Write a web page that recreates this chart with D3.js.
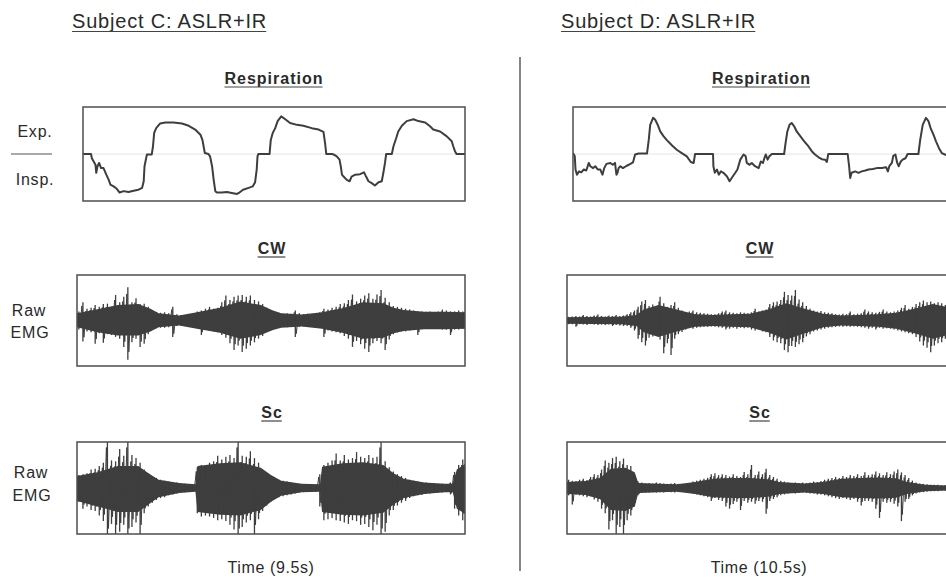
<!DOCTYPE html>
<html><head><meta charset="utf-8">
<script src="https://cdn.jsdelivr.net/npm/d3@7"></script>
<style>
body{margin:0;background:#fff;}
svg{display:block;font-family:"Liberation Sans",Arial,Helvetica,sans-serif;}
</style></head><body>
<svg id="chart" width="946" height="577"></svg>
<script>
// ---- labels ----
const subjects = ["Subject C: ASLR+IR", "Subject D: ASLR+IR"];
const durations = [9.5, 10.5];                 // seconds shown in each column
const timeLabels = ["Time (9.5s)", "Time (10.5s)"];
const panelTitles = ["Respiration", "CW", "Sc"];
const respLabels = ["Exp.", "Insp."];
const emgLabels = ["Raw", "EMG"];

// ---- respiration traces: [time s, normalised volume (+ expiration, - inspiration)] ----
const respC = [[0,0],[0.20,0],[0.22,-0.09],[0.31,-0.23],[0.33,-0.40],[0.36,-0.26],[0.40,-0.19],[0.45,-0.30],[0.51,-0.30],[0.58,-0.44],
[0.64,-0.55],[0.68,-0.65],[0.76,-0.69],[0.84,-0.74],[0.91,-0.82],[1.01,-0.79],[1.13,-0.81],[1.26,-0.78],[1.38,-0.76],[1.47,-0.72],
[1.51,-0.58],[1.53,-0.26],[1.57,-0.09],[1.59,-0.01],[1.71,-0.01],[1.74,0.16],[1.77,0.45],[1.82,0.55],[1.92,0.65],[2.05,0.67],
[2.25,0.67],[2.46,0.65],[2.63,0.60],[2.79,0.52],[2.92,0.41],[2.97,0.30],[3.00,0.16],[3.03,0.02],[3.12,0],[3.16,-0.05],
[3.21,-0.26],[3.25,-0.55],[3.29,-0.79],[3.33,-0.82],[3.45,-0.82],[3.58,-0.81],[3.70,-0.83],[3.83,-0.85],[3.89,-0.82],[3.98,-0.76],
[4.12,-0.72],[4.22,-0.69],[4.28,-0.60],[4.32,-0.33],[4.34,-0.05],[4.36,0],[4.64,0],[4.67,0.30],[4.72,0.45],[4.78,0.55],
[4.84,0.70],[4.93,0.80],[5.03,0.74],[5.15,0.66],[5.32,0.62],[5.48,0.60],[5.69,0.55],[5.86,0.52],[5.98,0.47],[6.02,0.23],
[6.05,0],[6.19,0],[6.23,-0.01],[6.31,-0.05],[6.38,-0.12],[6.41,-0.26],[6.44,-0.44],[6.48,-0.48],[6.56,-0.55],[6.63,-0.58],
[6.68,-0.48],[6.77,-0.44],[6.89,-0.43],[6.99,-0.39],[7.04,-0.48],[7.10,-0.58],[7.18,-0.62],[7.26,-0.67],[7.35,-0.60],[7.43,-0.58],
[7.47,-0.40],[7.51,-0.19],[7.54,0],[7.68,0],[7.72,0.16],[7.79,0.34],[7.84,0.48],[7.93,0.60],[8.05,0.70],[8.22,0.74],
[8.34,0.70],[8.51,0.67],[8.63,0.59],[8.71,0.52],[8.88,0.48],[9.04,0.38],[9.17,0.27],[9.21,0.16],[9.25,0.06],[9.29,0],[9.50,0]];

const respD = [[0,0.02],[0.05,-0.05],[0.07,-0.33],[0.11,-0.44],[0.17,-0.37],[0.23,-0.39],[0.30,-0.33],[0.37,-0.35],[0.44,-0.19],[0.48,-0.26],
[0.56,-0.30],[0.62,-0.26],[0.69,-0.33],[0.76,-0.33],[0.82,-0.44],[0.87,-0.30],[0.93,-0.21],[1.04,-0.19],[1.11,-0.23],[1.17,-0.19],
[1.21,-0.44],[1.24,-0.40],[1.27,-0.30],[1.32,-0.26],[1.39,-0.30],[1.50,-0.25],[1.60,-0.21],[1.67,-0.18],[1.73,-0.01],[1.83,0.01],
[2.06,0.01],[2.11,0.30],[2.15,0.62],[2.23,0.77],[2.29,0.73],[2.36,0.62],[2.43,0.48],[2.52,0.38],[2.62,0.29],[2.76,0.18],
[2.89,0.09],[3.03,0.02],[3.17,-0.05],[3.28,-0.17],[3.36,-0.19],[3.40,0],[3.90,0],[3.91,-0.26],[3.95,-0.40],[4.01,-0.33],
[4.06,-0.44],[4.12,-0.37],[4.19,-0.40],[4.29,-0.48],[4.36,-0.58],[4.42,-0.51],[4.52,-0.40],[4.58,-0.33],[4.66,-0.12],[4.75,-0.01],
[4.81,-0.05],[4.84,-0.19],[4.92,-0.23],[4.98,-0.19],[5.07,-0.26],[5.17,-0.30],[5.23,-0.16],[5.29,-0.19],[5.33,-0.09],[5.37,-0.01],
[5.42,-0.12],[5.47,-0.05],[5.54,0],[5.88,0],[5.92,0.23],[5.97,0.48],[6.03,0.62],[6.09,0.66],[6.16,0.59],[6.23,0.48],
[6.33,0.38],[6.44,0.27],[6.56,0.16],[6.65,0.06],[6.74,-0.01],[6.84,-0.07],[6.93,-0.11],[7.02,-0.12],[7.07,-0.17],[7.11,0],
[7.65,0],[7.69,-0.26],[7.72,-0.51],[7.76,-0.40],[7.86,-0.37],[7.95,-0.40],[8.04,-0.37],[8.14,-0.35],[8.23,-0.33],[8.35,-0.32],
[8.46,-0.30],[8.60,-0.30],[8.72,-0.28],[8.77,-0.37],[8.81,-0.26],[8.88,-0.19],[8.92,-0.04],[8.98,-0.01],[9.03,-0.19],[9.07,-0.26],
[9.13,-0.16],[9.18,-0.12],[9.26,-0.09],[9.32,0],[9.62,0],[9.67,0.30],[9.74,0.62],[9.83,0.77],[9.90,0.70],[9.96,0.55],
[10.04,0.41],[10.11,0.27],[10.19,0.13],[10.27,0.02],[10.36,-0.01],[10.50,-0.05]];

// ---- raw EMG spike peaks: per 0.1 s bin, [positive peak, negative peak] in % of full scale ----
const binWidth = 0.1;
const cwC = [[20,-20],[40,-46],[26,-24],[28,-26],[34,-51],[30,-28],[36,-49],[37,-30],[30,-32],[56,-36],
[40,-40],[52,-58],[73,-86],[40,-48],[49,-40],[36,-58],[37,-51],[30,-30],[20,-18],[19,-17],
[17,-16],[18,-16],[16,-15],[30,-36],[14,-12],[12,-11],[11,-10],[11,-10],[12,-11],[20,-16],
[22,-32],[26,-20],[30,-22],[26,-24],[28,-26],[40,-32],[55,-38],[45,-50],[52,-65],[55,-55],
[56,-69],[52,-62],[55,-55],[45,-48],[42,-40],[36,-34],[28,-22],[20,-18],[18,-16],[17,-15],
[15,-14],[16,-15],[15,-14],[22,-36],[16,-14],[14,-13],[15,-14],[14,-14],[16,-15],[18,-16],
[26,-36],[24,-22],[28,-24],[30,-26],[36,-28],[38,-34],[45,-40],[57,-58],[42,-45],[48,-52],
[55,-62],[60,-69],[48,-50],[57,-45],[67,-50],[50,-65],[40,-42],[32,-30],[30,-26],[28,-24],
[26,-24],[24,-22],[22,-20],[20,-32],[20,-18],[19,-18],[20,-18],[18,-18],[20,-18],[24,-20],
[22,-20],[20,-32],[20,-20],[22,-20],[20,-18]];

const cwD = [[8,-8],[9,-8],[10,-14],[9,-8],[12,-9],[10,-10],[9,-8],[11,-9],[13,-10],[10,-9],
[9,-10],[11,-9],[10,-12],[12,-10],[10,-11],[11,-12],[14,-12],[18,-16],[22,-22],[30,-40],
[42,-48],[45,-55],[32,-38],[35,-35],[30,-32],[52,-42],[38,-72],[30,-50],[34,-76],[40,-40],
[28,-30],[22,-25],[18,-20],[20,-16],[22,-18],[18,-16],[17,-15],[16,-14],[15,-14],[14,-13],
[14,-14],[16,-15],[20,-16],[22,-20],[18,-18],[17,-16],[16,-18],[18,-16],[17,-17],[16,-16],
[18,-20],[26,-22],[20,-20],[22,-24],[24,-26],[36,-36],[40,-44],[42,-48],[45,-50],[63,-65],
[56,-70],[55,-56],[67,-58],[46,-52],[40,-48],[32,-35],[26,-30],[22,-24],[20,-22],[21,-20],
[18,-18],[17,-16],[16,-15],[14,-14],[13,-13],[15,-14],[14,-13],[20,-14],[14,-13],[15,-14],
[16,-15],[24,-16],[20,-18],[18,-16],[17,-20],[19,-16],[24,-18],[20,-17],[18,-18],[20,-20],
[22,-22],[28,-24],[34,-26],[26,-28],[30,-30],[36,-36],[40,-46],[44,-55],[40,-60],[42,-70],
[38,-55],[40,-50],[38,-48],[34,-40],[30,-34]];

const scC = [[28,-30],[30,-45],[32,-40],[40,-48],[42,-50],[48,-60],[55,-72],[110,-110],[60,-78],[58,-100],
[85,-95],[70,-80],[110,-110],[72,-85],[65,-75],[55,-100],[40,-55],[32,-40],[26,-32],[22,-26],
[18,-22],[16,-20],[14,-16],[13,-14],[12,-12],[10,-10],[9,-9],[8,-8],[7,-7],[45,-55],
[50,-62],[48,-60],[55,-62],[58,-65],[70,-70],[62,-68],[68,-72],[72,-80],[65,-90],[110,-110],
[70,-85],[68,-75],[80,-70],[65,-100],[55,-68],[40,-50],[30,-38],[24,-30],[20,-24],[18,-20],
[16,-18],[14,-16],[12,-14],[10,-12],[9,-10],[8,-9],[8,-8],[8,-8],[7,-8],[30,-40],
[50,-70],[55,-68],[60,-65],[75,-70],[60,-72],[72,-75],[62,-78],[65,-70],[78,-72],[68,-80],
[65,-78],[72,-85],[66,-92],[68,-80],[110,-110],[58,-95],[45,-60],[36,-48],[30,-38],[26,-32],
[22,-28],[18,-22],[16,-18],[14,-16],[13,-15],[12,-13],[11,-12],[10,-11],[9,-10],[9,-10],
[8,-9],[12,-14],[35,-45],[50,-60],[62,-70]];

const scD = [[18,-16],[16,-36],[15,-14],[18,-16],[20,-18],[17,-20],[24,-18],[30,-25],[28,-30],[40,-45],
[60,-55],[55,-90],[65,-70],[68,-100],[58,-85],[64,-100],[50,-70],[48,-60],[30,-40],[14,-16],
[12,-11],[10,-10],[11,-10],[10,-9],[12,-10],[11,-9],[10,-10],[9,-8],[10,-9],[11,-10],
[9,-9],[8,-8],[7,-7],[10,-10],[14,-12],[16,-14],[18,-16],[20,-18],[22,-20],[30,-28],
[32,-22],[28,-26],[30,-28],[28,-40],[25,-45],[30,-35],[26,-30],[24,-48],[35,-28],[30,-32],
[50,-30],[28,-34],[36,-28],[30,-30],[42,-56],[28,-28],[24,-24],[20,-20],[16,-16],[14,-14],
[12,-12],[11,-11],[12,-12],[11,-11],[12,-10],[11,-11],[12,-12],[14,-12],[13,-14],[15,-14],
[18,-16],[20,-18],[22,-20],[24,-22],[22,-24],[26,-22],[24,-24],[28,-26],[26,-24],[30,-30],
[26,-38],[34,-28],[28,-28],[30,-30],[36,-45],[32,-65],[28,-30],[34,-32],[30,-30],[36,-34],
[40,-40],[34,-72],[28,-30],[22,-24],[16,-16],[12,-12],[10,-10],[9,-9],[8,-8],[7,-7],
[7,-7],[7,-7],[6,-6],[6,-6],[6,-6]];

// ---- raw EMG dense core: [time s, upper, lower] in % of full scale ----
const coreCwC = [[0,16,-15],[0.5,25,-26],[1.0,34,-33],[1.5,36,-33],[1.8,26,-24],[2.0,16,-15],[2.5,11,-11],[3.0,19,-19],
[3.5,28,-27],[4.0,42,-40],[4.5,34,-32],[4.8,22,-21],[5.0,16,-16],[5.5,13,-13],[6.0,18,-18],[6.5,27,-27],[7.0,40,-40],
[7.5,38,-38],[7.75,28,-28],[8.0,23,-23],[8.5,19,-19],[9.0,19,-19],[9.5,18,-18]];
const coreCwD = [[0,7,-7],[1.5,8,-8],[1.9,12,-12],[2.1,24,-26],[2.5,34,-36],[3.0,24,-24],[3.5,14,-14],[4.0,12,-12],
[4.5,14,-14],[5.0,15,-15],[5.5,24,-26],[6.0,38,-42],[6.5,26,-28],[7.0,15,-15],[7.5,11,-11],[8.0,12,-12],[8.5,14,-14],
[9.0,17,-18],[9.5,26,-28],[10.0,36,-40],[10.5,28,-30]];
const coreScC = [[0,26,-28],[0.5,34,-40],[1.0,48,-52],[1.5,48,-52],[1.75,32,-36],[2.0,18,-20],[2.5,11,-11],[2.9,8,-8],
[2.95,48,-52],[3.5,54,-58],[4.0,56,-60],[4.5,44,-48],[4.75,28,-30],[5.0,16,-17],[5.5,9,-9],[5.95,8,-8],[6.0,46,-52],
[6.5,54,-58],[7.0,56,-60],[7.5,50,-54],[7.75,32,-36],[8.0,20,-22],[8.5,12,-13],[9.0,9,-9],[9.2,9,-9],[9.3,40,-45],[9.5,52,-56]];
const coreScD = [[0,13,-13],[0.5,15,-15],[0.9,22,-24],[1.2,42,-48],[1.6,44,-50],[1.85,34,-40],[1.95,11,-11],[2.5,9,-9],
[3.0,8,-8],[3.5,13,-13],[4.0,20,-20],[4.5,22,-22],[5.0,22,-22],[5.5,19,-19],[5.8,13,-13],[6.5,10,-10],[7.0,13,-13],
[7.5,20,-20],[8.0,22,-22],[8.5,23,-23],[9.0,21,-21],[9.3,13,-13],[9.8,7,-7],[10.5,5,-5]];

// ---- layout ----
const ink = "#3e3e3e";
const frame = "#4d4d4d";
const cols = [
  {titleX: 72,  resp: [83, 465],  emg: [77, 465],  resData: respC,
   cw: cwC, cwCore: coreCwC, sc: scC, scCore: coreScC},
  {titleX: 561, resp: [573, 950], emg: [567, 951], resData: respD,
   cw: cwD, cwCore: coreCwD, sc: scD, scCore: coreScD}
];
const rows = {resp: [107, 201], cw: [275, 366], sc: [442, 534]};
const titleBase = {resp: 84, cw: 254, sc: 418};

const svg = d3.select("#chart");
const defs = svg.append("defs");

function underlinedText(g, x, y, str, opts) {
  const t = g.append("text").attr("x", x).attr("y", y).text(str)
    .attr("font-size", opts.size).attr("font-weight", opts.weight || "normal")
    .attr("letter-spacing", opts.ls || 0).attr("fill", "#2a2a2a")
    .attr("text-anchor", opts.anchor || "start");
  const bb = t.node().getBBox();
  g.append("line").attr("x1", bb.x).attr("x2", bb.x + bb.width - (opts.ls || 0))
    .attr("y1", y + opts.ul).attr("y2", y + opts.ul)
    .attr("stroke", "#444").attr("stroke-width", 1.2);
}

let clipId = 0;
function clipFor(x0, x1, y0, y1) {
  const id = "clip" + (clipId++);
  defs.append("clipPath").attr("id", id).append("rect")
    .attr("x", x0).attr("y", y0).attr("width", x1 - x0).attr("height", y1 - y0);
  return "url(#" + id + ")";
}

// raw EMG: dense core band, the alternating excursions of every bin, and its spike lines
function emgPanel(g, bins, core, dur, xr, yr) {
  const x = d3.scaleLinear().domain([0, dur]).range(xr);
  const y = d3.scaleLinear().domain([-100, 100]).range([yr[1], yr[0]]);
  const clip = clipFor(xr[0], xr[1], yr[0], yr[1]);
  const layer = g.append("g").attr("clip-path", clip);
  layer.append("path").datum(core)
    .attr("d", d3.area().x(d => x(d[0])).y0(d => y(d[2])).y1(d => y(d[1])))
    .attr("fill", ink);
  const pts = bins.flatMap(([hi, lo], i) => [[i * binWidth + 0.02, hi * 0.8], [i * binWidth + 0.07, lo * 0.8]]);
  layer.append("path").datum(pts)
    .attr("d", d3.line().x(d => x(d[0])).y(d => y(d[1])))
    .attr("fill", "none").attr("stroke", ink).attr("stroke-width", 1)
    .attr("stroke-linejoin", "bevel");
  layer.selectAll("line.spike").data(bins).join("line").attr("class", "spike")
    .attr("x1", (d, i) => x(i * binWidth + 0.045)).attr("x2", (d, i) => x(i * binWidth + 0.045))
    .attr("y1", d => y(d[0])).attr("y2", d => y(d[1]))
    .attr("stroke", ink).attr("stroke-width", 1.3);
  g.append("rect").attr("x", xr[0]).attr("y", yr[0])
    .attr("width", xr[1] - xr[0]).attr("height", yr[1] - yr[0])
    .attr("fill", "none").attr("stroke", frame).attr("stroke-width", 1.5);
}

cols.forEach((c, ci) => {
  const g = svg.append("g");
  const dur = durations[ci];

  underlinedText(g, c.titleX, 28, subjects[ci], {size: 20, ls: 0.8, ul: 3.5});

  // respiration
  const rx = d3.scaleLinear().domain([0, dur]).range(c.resp);
  const ry = d3.scaleLinear().domain([-1, 1]).range([rows.resp[1], rows.resp[0]]);
  const rc = (c.resp[0] + c.resp[1]) / 2;
  underlinedText(g, rc, titleBase.resp, panelTitles[0], {size: 16, weight: "bold", ls: 1, ul: 3, anchor: "middle"});
  g.append("line").attr("x1", c.resp[0]).attr("x2", c.resp[1]).attr("y1", ry(0)).attr("y2", ry(0))
    .attr("stroke", "#e4e4e4").attr("stroke-width", 1);
  g.append("path").datum(c.resData)
    .attr("clip-path", clipFor(c.resp[0], c.resp[1], rows.resp[0], rows.resp[1]))
    .attr("d", d3.line().x(d => rx(d[0])).y(d => ry(d[1])))
    .attr("fill", "none").attr("stroke", ink).attr("stroke-width", 2).attr("stroke-linejoin", "round");
  g.append("rect").attr("x", c.resp[0]).attr("y", rows.resp[0])
    .attr("width", c.resp[1] - c.resp[0]).attr("height", rows.resp[1] - rows.resp[0])
    .attr("fill", "none").attr("stroke", frame).attr("stroke-width", 1.5);

  // EMG panels
  const ec = (c.emg[0] + c.emg[1]) / 2 + 1;
  underlinedText(g, ec, titleBase.cw, panelTitles[1], {size: 16, weight: "bold", ls: 1, ul: 3, anchor: "middle"});
  emgPanel(g, c.cw, c.cwCore, dur, c.emg, rows.cw);
  underlinedText(g, ec, titleBase.sc, panelTitles[2], {size: 16, weight: "bold", ls: 1, ul: 3, anchor: "middle"});
  emgPanel(g, c.sc, c.scCore, dur, c.emg, rows.sc);

  g.append("text").attr("x", ec - 1).attr("y", 573).attr("text-anchor", "middle")
    .attr("font-size", 16).attr("letter-spacing", 0.6).attr("fill", "#2a2a2a").text(timeLabels[ci]);
});

// side labels for the left column
const side = svg.append("g").attr("fill", "#2a2a2a").attr("font-size", 16).attr("text-anchor", "middle");
side.append("text").attr("x", 35).attr("y", 137).attr("letter-spacing", 0.8).text(respLabels[0]);
side.append("text").attr("x", 35).attr("y", 185).attr("letter-spacing", 0.8).text(respLabels[1]);
side.append("line").attr("x1", 11).attr("x2", 52).attr("y1", 154).attr("y2", 154)
  .attr("stroke", "#555").attr("stroke-width", 1.2);
[[316, 338, 30], [478, 501, 32]].forEach(([y1, y2, cx]) => {
  side.append("text").attr("x", cx - 1).attr("y", y1).attr("letter-spacing", 0.8).text(emgLabels[0]);
  side.append("text").attr("x", cx).attr("y", y2).attr("letter-spacing", 0.8).text(emgLabels[1]);
});

// divider between the two subjects
svg.append("line").attr("x1", 520).attr("x2", 520).attr("y1", 57).attr("y2", 571)
  .attr("stroke", "#444").attr("stroke-width", 1.3);
</script>
</body></html>
